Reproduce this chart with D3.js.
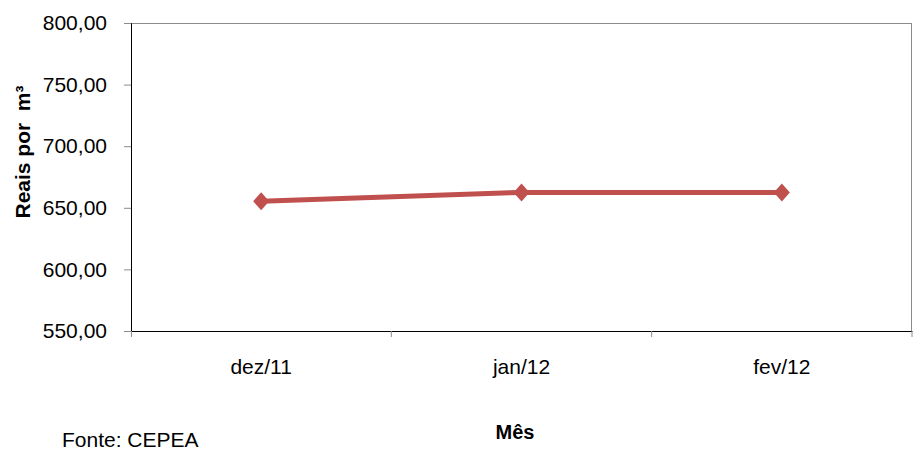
<!DOCTYPE html>
<html>
<head>
<meta charset="utf-8">
<script src="https://cdn.jsdelivr.net/npm/d3@7"></script>
<style>
  body { margin: 0; background: #fff; }
  text { font-family: "Liberation Sans", Arial, sans-serif; fill: #000; }
</style>
</head>
<body>
<div id="chart"></div>
<script>
const months = ["dez/11", "jan/12", "fev/12"];
const prices = [655.3, 662.5, 662.5];
const yTicks = [550, 600, 650, 700, 750, 800];

const width = 913, height = 450;
const margin = {top: 23, right: 1, bottom: 119, left: 131};
const innerW = width - margin.left - margin.right,
  innerH = height - margin.top - margin.bottom;
const fontFamily = "Liberation Sans, Arial, sans-serif";

const svg = d3.select("#chart")
  .append("svg")
  .attr("width", width)
  .attr("height", height);

const g = svg.append("g")
  .attr("transform", "translate(" + margin.left + "," + margin.top + ")");

const x = d3.scaleBand()
  .domain(months)
  .range([0, innerW]);

const y = d3.scaleLinear()
  .domain([550, 800])
  .range([innerH, 0]);

// top and right border lines
g.append("line")
  .attr("x1", 0).attr("x2", innerW)
  .attr("y1", 0.5).attr("y2", 0.5)
  .attr("stroke", "#8c8c8c");
g.append("line")
  .attr("x1", innerW - 0.5).attr("x2", innerW - 0.5)
  .attr("y1", 0).attr("y2", innerH)
  .attr("stroke", "#8c8c8c");

// y axis
const yAxis = g.append("g")
  .call(d3.axisLeft(y).tickValues(yTicks).tickSize(7)
    .tickFormat(d => d3.format(".2f")(d).replace(".", ",")));
yAxis.select(".domain").attr("stroke", "#000");
yAxis.selectAll(".tick line").attr("stroke", "#8c8c8c");
yAxis.selectAll(".tick text")
  .attr("x", -24)
  .style("font-size", "21px")
  .style("font-family", fontFamily);

// x axis
const xAxis = g.append("g")
  .attr("transform", "translate(0," + innerH + ")")
  .call(d3.axisBottom(x).tickSize(0).tickFormat(d => d));
xAxis.select(".domain").attr("stroke", "#000");
xAxis.selectAll(".tick text")
  .attr("y", 43)
  .attr("dy", 0)
  .style("font-size", "21px")
  .style("font-family", fontFamily);

// category separator ticks
g.append("g")
  .selectAll("line")
  .data(months)
  .join("line")
  .attr("x1", d => x(d) + x.bandwidth())
  .attr("x2", d => x(d) + x.bandwidth())
  .attr("y1", innerH)
  .attr("y2", innerH + 6)
  .attr("stroke", "#8c8c8c");
g.append("line")
  .attr("x1", 0.5).attr("x2", 0.5)
  .attr("y1", innerH).attr("y2", innerH + 6)
  .attr("stroke", "#8c8c8c");

// line
const line = d3.line()
  .x((d, i) => x(months[i]) + x.bandwidth() / 2)
  .y(d => y(d));

g.append("path")
  .datum(prices)
  .attr("d", line)
  .attr("fill", "none")
  .attr("stroke", "#C0504D")
  .attr("stroke-width", 5);

g.selectAll(".marker")
  .data(prices)
  .join("path")
  .attr("class", "marker")
  .attr("d", "M0,-9L8,0L0,9L-8,0Z")
  .attr("transform", (d, i) => "translate(" + (x(months[i]) + x.bandwidth() / 2) + "," + y(d) + ")")
  .attr("fill", "#C0504D");

// axis titles
svg.append("text")
  .attr("transform", "translate(30,152) rotate(-90)")
  .attr("text-anchor", "middle")
  .style("font-size", "21px")
  .style("font-weight", "bold")
  .style("white-space", "pre")
  .text("Reais por  m³");

svg.append("text")
  .attr("x", 515)
  .attr("y", 439)
  .attr("text-anchor", "middle")
  .style("font-size", "20px")
  .style("font-weight", "bold")
  .text("Mês");

svg.append("text")
  .attr("x", 62)
  .attr("y", 447)
  .style("font-size", "21px")
  .text("Fonte: CEPEA");
</script>
</body>
</html>
